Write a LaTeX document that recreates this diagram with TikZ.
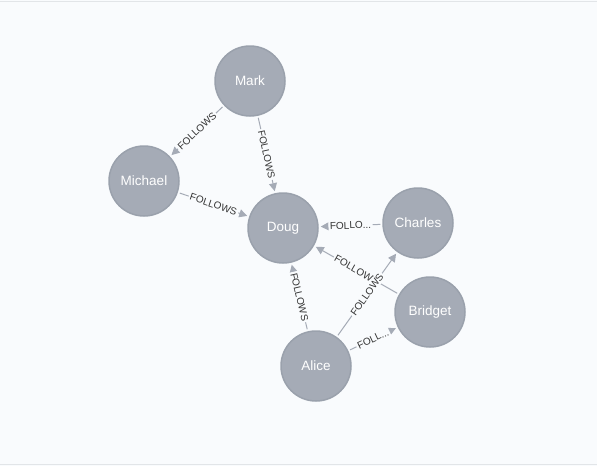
\documentclass[tikz,border=0pt]{standalone}
\usepackage{fontspec}
\setmainfont{Liberation Sans}
\usetikzlibrary{arrows.meta}
\definecolor{bg}{HTML}{F9FBFD}
\definecolor{nodefill}{HTML}{A5ABB6}
\definecolor{nodeborder}{HTML}{9AA1AC}
\definecolor{edgecol}{HTML}{A5ABB6}
\definecolor{labelcol}{HTML}{333333}
\definecolor{framecol}{HTML}{E2E5E8}
\tikzset{
  person/.style={circle, minimum size=70pt, inner sep=0pt, fill=nodefill, draw=nodeborder, line width=1.5pt, text=white, font=\fontsize{13.5}{15}\selectfont},
  rel/.style={draw=edgecol, line width=1pt, -{Triangle[length=8pt,width=8pt]}, shorten >=2pt, shorten <=2pt},
  rellabel/.style={midway, sloped, fill=bg, inner sep=1.5pt, text=labelcol, font=\fontsize{10}{12}\selectfont}
}
\begin{document}
\begin{tikzpicture}[x=1pt,y=-1pt]
\fill[bg] (0,0) rectangle (597,466);
\useasboundingbox (0,0) rectangle (597,466);
\draw[framecol, line width=1pt] (0,1.5) -- (597,1.5);
\draw[framecol, line width=1.5pt] (0,464.5) -- (597,464.5);

\node[person] (mark) at (250,81) {Mark};
\node[person] (michael) at (144,181) {Michael};
\node[person] (doug) at (283,228) {Doug};
\node[person] (charles) at (418,223) {Charles};
\node[person] (bridget) at (430,312) {Bridget};
\node[person] (alice) at (316,366) {Alice};

\draw[rel] (mark) -- node[rellabel] {FOLLOWS} (michael);
\draw[rel] (mark) -- node[rellabel] {FOLLOWS} (doug);
\draw[rel] (michael) -- node[rellabel] {FOLLOWS} (doug);
\draw[rel] (charles) -- node[rellabel] {FOLLO...} (doug);
\draw[rel] (bridget) -- node[rellabel] {FOLLOWS} (doug);
\draw[rel] (alice) -- node[rellabel] {FOLLOWS} (doug);
\draw[rel] (alice) -- node[rellabel] {FOLLOWS} (charles);
\draw[rel] (alice) -- node[rellabel] {FOLL...} (bridget);
\end{tikzpicture}
\end{document}
